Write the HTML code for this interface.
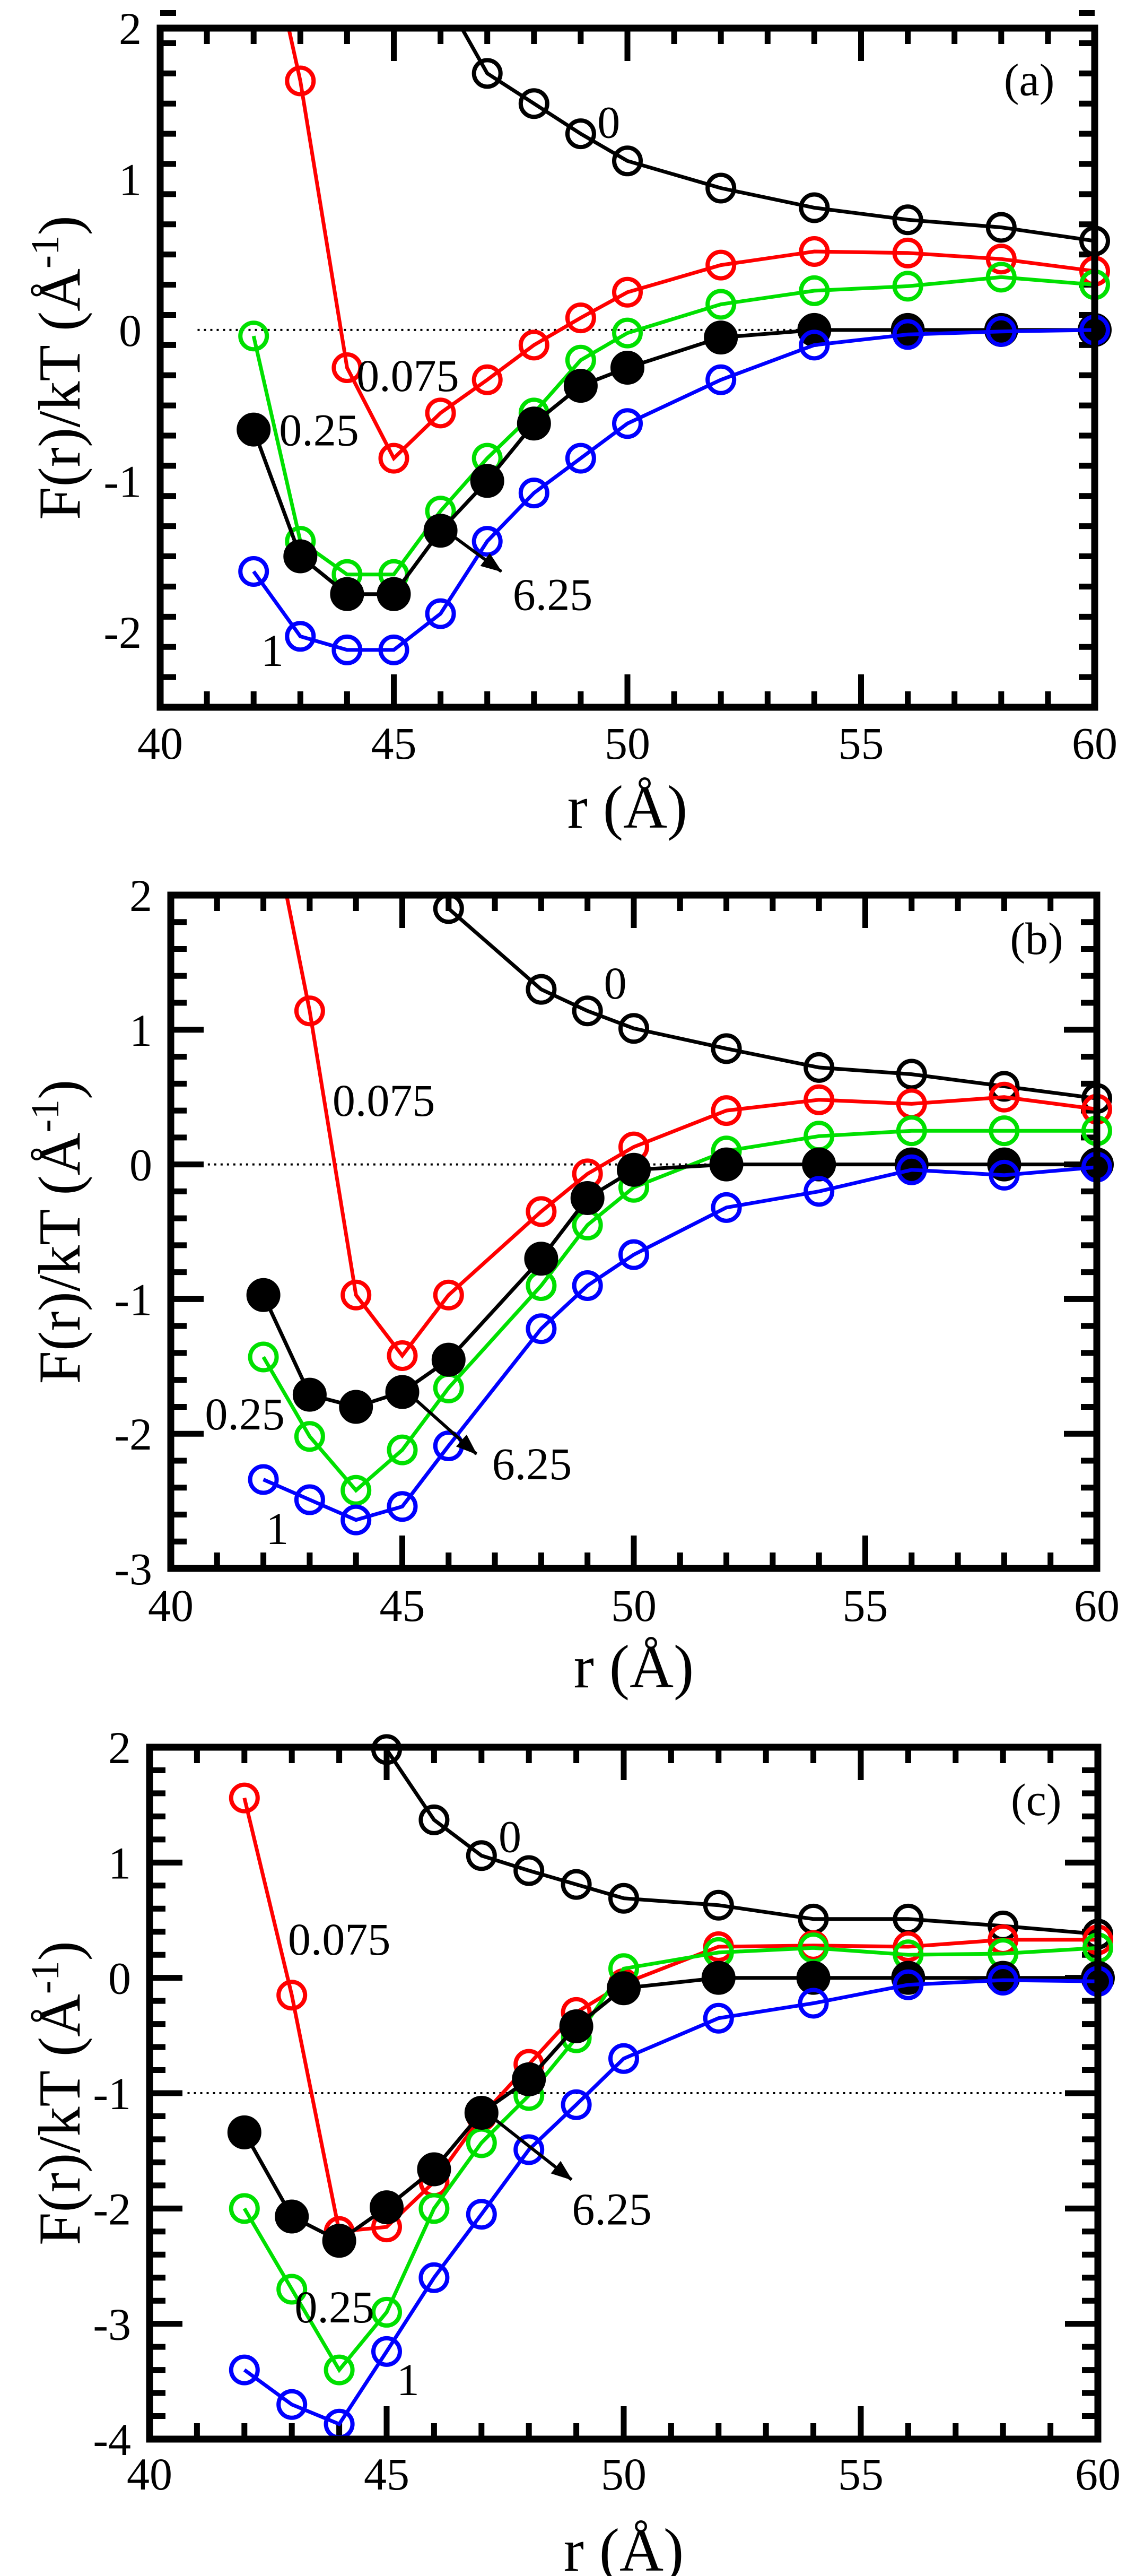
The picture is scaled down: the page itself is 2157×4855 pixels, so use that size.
<!DOCTYPE html>
<html><head><meta charset="utf-8"><style>
html,body{margin:0;padding:0;background:#fff}
svg{display:block}
text{font-family:"Liberation Serif",serif;fill:#000}
</style></head><body>
<svg id="fig" width="2157" height="4855" viewBox="0 0 2157 4855" xmlns="http://www.w3.org/2000/svg"></svg>
<script>
const rVals = [42,43,44,45,46,47,48,49,50,52,54,56,58,60];
const rValsB = [42,43,44,45,46,48,49,50,52,54,56,58,60];
const xTickLabels = ["40","45","50","55","60"];

// panel a
const aZero   = [null,null,null,null,2.25,1.70,1.50,1.30,1.12,0.94,0.81,0.73,0.68,0.59];
const aRed    = [3.05,1.65,-0.25,-0.85,-0.55,-0.33,-0.10,0.08,0.25,0.43,0.52,0.51,0.47,0.39];
const aGreen  = [-0.04,-1.40,-1.62,-1.62,-1.20,-0.85,-0.55,-0.20,-0.02,0.17,0.26,0.29,0.35,0.30];
const aFilled = [-0.66,-1.50,-1.75,-1.75,-1.33,-1.00,-0.62,-0.37,-0.25,-0.05,0.00,0.00,0.00,0.00];
const aBlue   = [-1.60,-2.03,-2.12,-2.12,-1.88,-1.40,-1.08,-0.85,-0.62,-0.33,-0.10,-0.03,-0.01,0.00];
const aYTicks = ["2","1","0","-1","-2"];

// panel b
const bZero   = [null,null,null,null,1.90,1.30,1.14,1.01,0.86,0.72,0.67,0.58,0.49];
const bRed    = [2.86,1.14,-0.97,-1.42,-0.97,-0.35,-0.07,0.13,0.40,0.48,0.45,0.50,0.41];
const bGreen  = [-1.43,-2.02,-2.42,-2.12,-1.66,-0.90,-0.45,-0.17,0.10,0.21,0.25,0.25,0.25];
const bFilled = [-0.97,-1.71,-1.80,-1.69,-1.45,-0.70,-0.25,-0.04,0.00,0.00,0.00,0.00,0.00];
const bBlue   = [-2.34,-2.49,-2.64,-2.54,-2.09,-1.22,-0.90,-0.67,-0.32,-0.20,-0.04,-0.08,-0.02];
const bYTicks = ["2","1","0","-1","-2","-3"];

// panel c
const cZero   = [null,null,null,1.98,1.37,1.06,0.93,0.81,0.69,0.63,0.51,0.51,0.45,0.38];
const cRed    = [1.56,-0.15,-2.20,-2.16,-1.77,-1.20,-0.75,-0.30,-0.05,0.27,0.28,0.27,0.33,0.33];
const cGreen  = [-2.00,-2.70,-3.40,-2.90,-2.00,-1.43,-1.02,-0.52,0.08,0.22,0.26,0.20,0.21,0.26];
const cFilled = [-1.34,-2.07,-2.28,-1.99,-1.66,-1.17,-0.88,-0.42,-0.09,0.00,0.00,0.00,0.00,0.00];
const cBlue   = [-3.40,-3.70,-3.87,-3.24,-2.60,-2.05,-1.49,-1.10,-0.70,-0.35,-0.22,-0.06,-0.02,-0.03];
const cYTicks = ["2","1","0","-1","-2","-3","-4"];

const NS="http://www.w3.org/2000/svg";
const svg=document.getElementById('fig');
function mk(tag,attrs,parent){const e=document.createElementNS(NS,tag);for(const k in attrs)e.setAttribute(k,attrs[k]);(parent||svg).appendChild(e);return e;}

const panels=[
 {id:'a',L:302,R:2064,T:53,B:1333,ymin:-2.5,ymax:2,x:rVals,yt:aYTicks,tickY:1400,xlabY:1560,ref:0,
  s:[aZero,aRed,aGreen,aFilled,aBlue],
  lab:[["0",49.6,1.38],["0.075",45.3,-0.3],["0.25",43.4,-0.66],["6.25",48.4,-1.75],["1",42.4,-2.12],["(a)",58.6,1.66]],
  arrow:[46.2,-1.35,47.3,-1.6]},
 {id:'b',L:322,R:2068,T:1687,B:2956,ymin:-3,ymax:2,x:rValsB,yt:bYTicks,tickY:3025,xlabY:3180,ref:0,
  s:[bZero,bRed,bGreen,bFilled,bBlue],
  lab:[["0",49.6,1.35],["0.075",44.6,0.48],["0.25",41.6,-1.85],["6.25",47.8,-2.22],["1",42.3,-2.7],["(b)",58.7,1.68]],
  arrow:[45.2,-1.72,46.6,-2.15]},
 {id:'c',L:282,R:2070,T:3293,B:4597,ymin:-4,ymax:2,x:rVals,yt:cYTicks,tickY:4662,xlabY:4845,ref:-1,
  s:[cZero,cRed,cGreen,cFilled,cBlue],
  lab:[["0",47.6,1.23],["0.075",44.0,0.34],["0.25",43.9,-2.85],["6.25",49.75,-2.0],["1",45.45,-3.48],["(c)",58.7,1.55]],
  arrow:[47.2,-1.2,48.9,-1.75]}
];
const colors=['#000','#ff0000','#00e000','#000','#0000ff'];
const names=['zero','0075','025','625','1'];

mk('defs',{}).innerHTML='<marker id="ah" markerWidth="40" markerHeight="30" refX="38" refY="15" orient="auto" markerUnits="userSpaceOnUse" viewBox="0 0 40 30"><path d="M0,0 L40,15 L0,30 z" fill="#000"/></marker>';

panels.forEach(p=>{
  const g=mk('g',{});
  
  
  const X=v=>p.L+(v-40)/20*(p.R-p.L);
  const Y=v=>p.T+(p.ymax-v)/(p.ymax-p.ymin)*(p.B-p.T);
  const cp=mk('clipPath',{id:'clip'+p.id},g);
  mk('rect',{x:p.L,y:p.T,width:p.R-p.L,height:p.B-p.T},cp);
  const rl=mk('line',{x1:X(40.8),x2:X(59.4),y1:Y(p.ref),y2:Y(p.ref),stroke:'#000','stroke-width':4,'stroke-dasharray':'4 8'},g);
  
  
  for(let v=40;v<=60;v++){
    const len=(v%5===0)?62:30;
    mk('line',{x1:X(v),x2:X(v),y1:p.B,y2:p.B-len,stroke:'#000','stroke-width':11},g);
    mk('line',{x1:X(v),x2:X(v),y1:p.T,y2:p.T+len,stroke:'#000','stroke-width':11},g);
  }
  const nmin=Math.round((p.ymax-p.ymin)/0.2);
  for(let i=0;i<=nmin;i++){
    const v=p.ymin+i*0.2;const major=Math.abs(v-Math.round(v))<1e-6;
    const len=major?62:30;
    mk('line',{x1:p.L,x2:p.L+len,y1:Y(v),y2:Y(v),stroke:'#000','stroke-width':11},g);
    mk('line',{x1:p.R,x2:p.R-len,y1:Y(v),y2:Y(v),stroke:'#000','stroke-width':11},g);
  }
  xTickLabels.forEach((t,i)=>{
    const e=mk('text',{x:X(40+5*i),y:p.tickY+30,'font-size':86,'text-anchor':'middle'},g);
    e.textContent=t;
    
    
  });
  p.yt.forEach((t,i)=>{
    const e=mk('text',{x:p.L-35,y:Y(p.ymax-i)+30,'font-size':86,'text-anchor':'end'},g);
    e.textContent=t;
    
    
  });
  const xt=mk('text',{x:(p.L+p.R)/2,y:p.xlabY,'font-size':115,'text-anchor':'middle'},g);
  xt.textContent='r (Å)';
  
  
  const cy=(p.T+p.B)/2;
  const yt=mk('text',{x:0,y:0,'font-size':112,'text-anchor':'middle',transform:`translate(150,${cy}) rotate(-90)`},g);
  yt.innerHTML='F(r)/kT (Å<tspan dy="-40" font-size="75">-1</tspan><tspan dy="40">)</tspan>';
  
  
  p.s.forEach((arr,si)=>{
    const sg=mk('g',{},g);
    
    
    let d='';
    arr.forEach((v,i)=>{ if(v===null)return; d+=(d?'L':'M')+X(p.x[i]).toFixed(1)+','+Y(v).toFixed(1); });
    mk('path',{d:d,fill:'none',stroke:colors[si],'stroke-width':7,'clip-path':`url(#clip${p.id})`},sg);
    arr.forEach((v,i)=>{
      if(v===null||v>p.ymax+0.05||v<p.ymin-0.05)return;
      const c=mk('circle',{cx:X(p.x[i]),cy:Y(v),r:si===3?28:25,fill:si===3?'#000':'none',stroke:colors[si],'stroke-width':8},sg);
      
      
    });
  });
  const a=p.arrow;
  const ar=mk('line',{x1:X(a[0]),y1:Y(a[1]),x2:X(a[2]),y2:Y(a[3]),stroke:'#000','stroke-width':6,'marker-end':'url(#ah)'},g);
  
  
  p.lab.forEach(l=>{
    const e=mk('text',{x:X(l[1]),y:Y(l[2])+30,'font-size':86,'text-anchor':'middle'},g);
    e.textContent=l[0];
    
    
  });
  const fr=mk('rect',{x:p.L,y:p.T,width:p.R-p.L,height:p.B-p.T,fill:'none',stroke:'#000','stroke-width':13},g);
  
  
});
</script>
</body></html>
